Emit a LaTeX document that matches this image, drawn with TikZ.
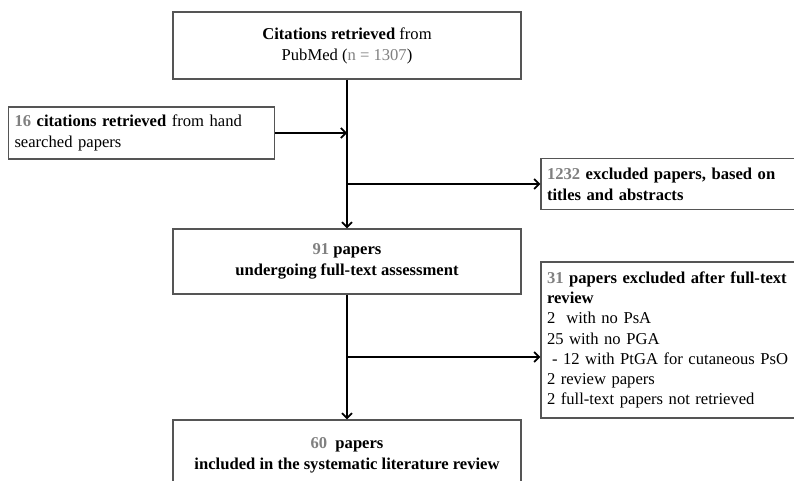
\documentclass[tikz,border=0pt]{standalone}
\usepackage{fontspec}
\setmainfont{Liberation Serif}
\usepackage{xcolor}
\definecolor{NumGray}{HTML}{808080}
\definecolor{BoxGray}{HTML}{555555}
\usetikzlibrary{arrows.meta, positioning}
\newcommand{\num}[1]{\textcolor{NumGray}{#1}}

\begin{document}
\begin{tikzpicture}[x=1pt,y=-1pt,
    box/.style={draw=BoxGray,line width=1.3pt,inner xsep=6pt,inner ysep=2pt,
      font=\fontsize{16.6}{21}\selectfont},
    flow/.style={line width=1.7pt,-{Straight Barb[length=5pt,width=10pt,line width=1.7pt]}}]
  \useasboundingbox (0,0) rectangle (794,481);
  % boxes of the main column
  \node[box,minimum width=348pt,minimum height=67pt,align=center] (pubmed) at (347,45.5)
    {\textbf{Citations retrieved} from\\PubMed (\num{n = 1307})};
  \node[box,minimum width=348pt,minimum height=65pt,align=center] (fulltext) at (347,261.5)
    {\textbf{\num{91} papers}\\\textbf{undergoing full-text assessment}};
  \node[box,minimum width=348pt,minimum height=70pt,align=center] (included) at (347,455)
    {\textbf{\num{60}\ \ papers}\\\textbf{included in the systematic literature review}};
  % side boxes
  \node[box,text width=254pt,minimum height=52pt,align=left] (hand) at (141.5,133)
    {\textbf{\num{16} citations retrieved} from hand\\searched papers};
  \node[box,text width=242pt,minimum height=51pt,align=left] (titles) at (668,184)
    {\textbf{\num{1232} excluded papers, based on}\\\textbf{titles and abstracts}};
  \node[box,text width=242pt,minimum height=156pt,align=left,
    font=\fontsize{16.6}{20.3}\selectfont] (review) at (668,340)
    {\textbf{\num{31} papers excluded after full-text}\\\textbf{review}\\
     2\ \ with no PsA\\25 with no PGA\\\hspace*{5pt}- 12 with PtGA for cutaneous PsO\\
     2 review papers\\2 full-text papers not retrieved};
  % connectors
  \draw[flow] (pubmed) -- (fulltext);
  \draw[flow] (fulltext) -- (included);
  \draw[flow] (hand.east) -- (hand.east -| pubmed.south);
  \draw[flow] (titles.west -| pubmed.south) -- (titles.west);
  \coordinate (split) at (347,357);
  \draw[flow] (split) -- (split -| review.west);
\end{tikzpicture}
\end{document}
